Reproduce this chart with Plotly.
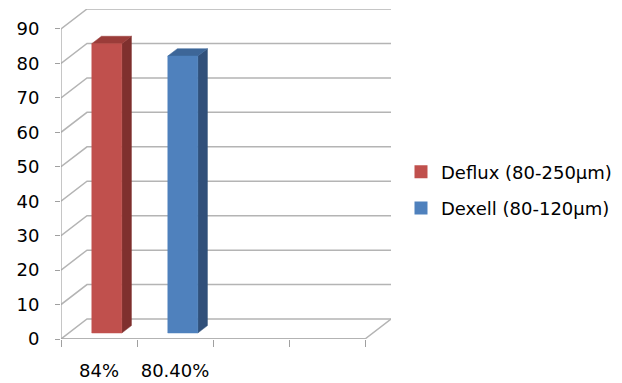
import plotly.graph_objects as go

categories = ["84%", "80.40%", "", ""]
deflux = [84, None, None, None]
dexell = [None, 80.4, None, None]
series_names = ["Deflux (80-250µm)", "Dexell (80-120µm)"]
y_ticks = list(range(0, 100, 10))

# colours: front, side, top
colors = {
    "Deflux (80-250µm)": ("#C0504D", "#7F302E", "#9A3C39"),
    "Dexell (80-120µm)": ("#4F81BD", "#31507A", "#3D6698"),
}

n = len(categories)
YMAX = 90
DX, DY = 0.342, 5.8          # depth vector of the 3D box (data units)
F, D = 0.30, 0.37            # bar front depth fraction and bar depth fraction
W = 0.395                    # bar width (category units)
GRID = "#B4B4B4"
FONT = "DejaVu Sans"

fig = go.Figure()

# walls / gridlines
gx, gy = [], []
for v in y_ticks:
    gx += [0, DX, n + DX, None]
    gy += [v, v + DY, v + DY, None]
# floor front & right edges
gx += [0, n, n + DX, None]
gy += [0, 0, DY, None]
fig.add_trace(go.Scatter(x=gx, y=gy, mode="lines", line=dict(color=GRID, width=1.5),
                         hoverinfo="skip", showlegend=False, cliponaxis=False))
# y axis line
fig.add_trace(go.Scatter(x=[0, 0], y=[0, YMAX], mode="lines", line=dict(color="#A0A0A0", width=1.2),
                         hoverinfo="skip", showlegend=False, cliponaxis=False))

def add_bars(vals, name):
    front, side, top = colors[name]
    for i, v in enumerate(vals):
        if v is None:
            continue
        x0 = i + 0.5 - W / 2
        x1 = i + 0.5 + W / 2
        fx, fy = F * DX, F * DY
        bx, by = (F + D) * DX, (F + D) * DY
        polys = [
            ([x1 + fx, x1 + bx, x1 + bx, x1 + fx, x1 + fx], [fy, by, v + by, v + fy, fy], side),
            ([x0 + fx, x1 + fx, x1 + bx, x0 + bx, x0 + fx], [v + fy, v + fy, v + by, v + by, v + fy], top),
            ([x0 + fx, x1 + fx, x1 + fx, x0 + fx, x0 + fx], [fy, fy, v + fy, v + fy, fy], front),
        ]
        for px, py, c in polys:
            fig.add_trace(go.Scatter(x=px, y=py, mode="lines", fill="toself", fillcolor=c,
                                     line=dict(color=c, width=0.5), hoverinfo="skip",
                                     showlegend=False, cliponaxis=False))
    # legend entry
    fig.add_trace(go.Scatter(x=[None], y=[None], mode="markers", name=name, legendgroup=name,
                             marker=dict(symbol="square", size=13, color=front)))

add_bars(deflux, series_names[0])
add_bars(dexell, series_names[1])

# x axis line
fig.add_trace(go.Scatter(x=[0, n], y=[0, 0], mode="lines", line=dict(color="#A0A0A0", width=1.2),
                         hoverinfo="skip", showlegend=False, cliponaxis=False))

fig.update_layout(
    width=622, height=383,
    margin=dict(l=61, r=231, t=9, b=44, autoexpand=False),
    paper_bgcolor="white", plot_bgcolor="white",
    font=dict(family=FONT, size=17, color="#000000"),
    xaxis=dict(range=[0, n + DX], showgrid=False, zeroline=False, showline=False, automargin=False,
               tickvals=[i + 0.5 for i in range(n)], ticktext=categories, ticks="",
               ticklabelstandoff=19, tickfont=dict(size=18),
               minor=dict(tickvals=list(range(n + 1)), ticks="outside", ticklen=7,
                          tickcolor="#A0A0A0", tickwidth=1.2, showgrid=False)),
    yaxis=dict(range=[0, YMAX + DY], showgrid=False, zeroline=False, showline=False, automargin=False,
               tickvals=y_ticks, ticks="outside", ticklen=5, tickcolor="#A0A0A0", tickwidth=1.2,
               ticklabelstandoff=12, tickfont=dict(size=18)),
    legend=dict(x=1.0303, y=0.4515, xanchor="left", yanchor="middle", font=dict(size=18),
                tracegroupgap=10, bgcolor="rgba(0,0,0,0)"),
    showlegend=True,
)

fig.write_html("out.html")
